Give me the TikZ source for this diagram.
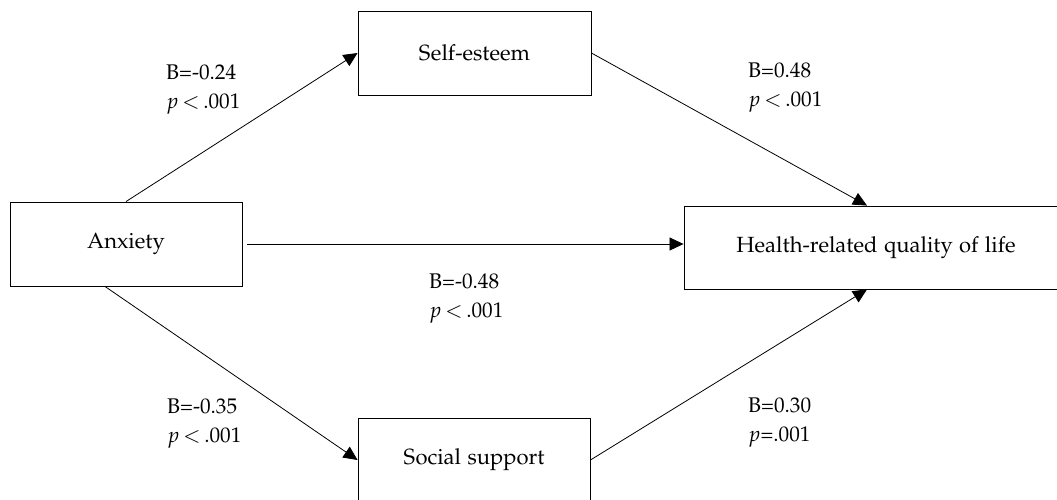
\documentclass[tikz,border=0pt]{standalone}
\usepackage[T1]{fontenc}
\usepackage[sc]{mathpazo}
\usetikzlibrary{arrows.meta}
\begin{document}
\begin{tikzpicture}[x=1pt,y=-1pt,
  box/.style={draw,line width=0.9pt,minimum width=233pt,minimum height=84pt,inner sep=0pt,
    font=\fontsize{22}{26}\selectfont},
  conn/.style={line width=0.8pt,-{Triangle[length=14pt,width=13pt]}},
  lab/.style={align=left,anchor=north west,inner sep=0pt,font=\fontsize{21.2}{29}\selectfont}]
\useasboundingbox (0,0) rectangle (1057,499);
\node[box,minimum width=232pt] (anx) at (126,244) {Anxiety};
\node[box] (self) at (474.5,53) {Self-esteem};
\node[box,minimum width=232pt] (soc) at (474,460) {Social support};
\node[box,minimum width=384pt,minimum height=83pt] (hrq) at (876,247.5) {Health-related quality of life};
\draw[conn] (anx.north) -- (self.west);
\draw[conn] (self.east) -- ([xshift=-9pt]hrq.north);
\draw[conn] ([xshift=-21pt]anx.south) -- (soc.west);
\draw[conn] (soc.east) -- ([xshift=-9pt]hrq.south);
\draw[conn] ([xshift=5pt]anx.east) -- (anx.east -| hrq.west);
\node[lab] (l1) at (166,65) {B=-0.24\\$p$\,$<$\,.001};
\node[lab] (l2) at (748,63) {B=0.48\\$p$\,$<$\,.001};
\node[lab] (l3) at (429,274) {B=-0.48\\$p$\,$<$\,.001};
\node[lab] (l4) at (167,399) {B=-0.35\\$p$\,$<$\,.001};
\node[lab] (l5) at (748,398) {B=0.30\\$p$=.001};
\end{tikzpicture}
\end{document}
